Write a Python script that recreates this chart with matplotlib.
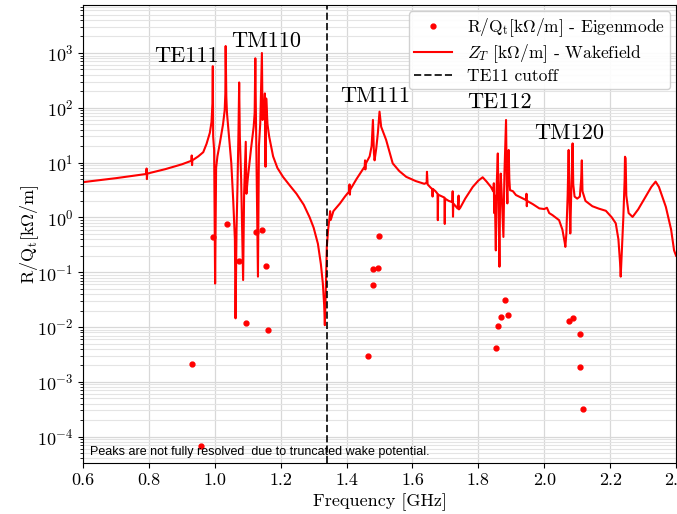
import matplotlib
matplotlib.use("Agg")
import matplotlib.pyplot as plt
from matplotlib.ticker import LogLocator, NullFormatter

plt.rcParams['font.family'] = ['cmr10', 'DejaVu Serif']
plt.rcParams['mathtext.fontset'] = 'cm'
plt.rcParams['axes.formatter.use_mathtext'] = True

# Eigenmode R/Q points
eig_freq = [0.930, 0.958, 0.994, 1.036, 1.073, 1.094, 1.124, 1.142, 1.155, 1.161,
            1.464, 1.479, 1.479, 1.494, 1.497,
            1.855, 1.861, 1.870, 1.882, 1.891,
            2.076, 2.088, 2.109, 2.109, 2.118]
eig_rq = [2.1e-3, 6.7e-5, 0.44, 0.76, 0.16, 0.0118, 0.54, 0.58, 0.13, 0.0088,
          3.0e-3, 0.058, 0.114, 0.12, 0.46,
          4.1e-3, 0.0104, 0.015, 0.031, 0.0165,
          0.0128, 0.0145, 7.4e-3, 1.9e-3, 3.2e-4]

# Wakefield transverse impedance
wake_freq = [0.600, 0.700, 0.790, 0.792, 0.793, 0.794, 0.795, 0.850, 0.900, 0.929,
             0.930, 0.931, 0.932, 0.950, 0.965, 0.975, 0.985, 0.990, 0.993, 0.994,
             0.995, 0.998, 1.001, 1.004, 1.008, 1.015, 1.025, 1.030, 1.032, 1.033,
             1.035, 1.037, 1.045, 1.050, 1.056, 1.061, 1.063, 1.066, 1.069, 1.072,
             1.074, 1.076, 1.080, 1.086, 1.089, 1.094, 1.096, 1.100, 1.110, 1.118,
             1.121, 1.123, 1.125, 1.131, 1.134, 1.138, 1.143, 1.145, 1.150, 1.152,
             1.154, 1.156, 1.160, 1.165, 1.177, 1.190, 1.207, 1.228, 1.248, 1.270,
             1.288, 1.300, 1.313, 1.322, 1.328, 1.332, 1.334, 1.337, 1.340, 1.344,
             1.348, 1.350, 1.352, 1.360, 1.380, 1.395, 1.408, 1.409, 1.410, 1.411,
             1.430, 1.455, 1.456, 1.457, 1.458, 1.470, 1.476, 1.480, 1.483, 1.485,
             1.490, 1.495, 1.500, 1.505, 1.520, 1.540, 1.560, 1.581, 1.610, 1.636,
             1.643, 1.644, 1.646, 1.655, 1.660, 1.661, 1.662, 1.670, 1.676, 1.677,
             1.678, 1.690, 1.697, 1.698, 1.699, 1.710, 1.721, 1.722, 1.723, 1.724,
             1.737, 1.740, 1.741, 1.745, 1.760, 1.783, 1.800, 1.813, 1.825, 1.838,
             1.845, 1.847, 1.848, 1.850, 1.853, 1.855, 1.859, 1.861, 1.864, 1.866,
             1.868, 1.871, 1.876, 1.879, 1.884, 1.886, 1.888, 1.890, 1.892, 1.894,
             1.896, 1.905, 1.914, 1.930, 1.945, 1.946, 1.947, 1.948, 1.965, 1.985,
             2.000, 2.008, 2.015, 2.025, 2.045, 2.055, 2.062, 2.064, 2.067, 2.071,
             2.074, 2.076, 2.079, 2.082, 2.086, 2.088, 2.092, 2.100, 2.108, 2.112,
             2.114, 2.116, 2.125, 2.146, 2.165, 2.187, 2.205, 2.217, 2.225, 2.230,
             2.232, 2.236, 2.240, 2.244, 2.245, 2.247, 2.249, 2.256, 2.268, 2.285,
             2.308, 2.325, 2.338, 2.348, 2.369, 2.385, 2.394, 2.400]
wake_zt = [4.4, 5.2, 6.2, 6.2, 7.8, 5.0, 6.3, 7.6, 9.3, 10.8,
           13.5, 9.0, 11.0, 13.0, 15.5, 22.0, 35.0, 55.0, 120.0, 575.0,
           30.0, 17.0, 0.062, 8.0, 13.0, 22.0, 50.0, 90.0, 180.0, 1340.0,
           160.0, 80.0, 22.0, 10.0, 2.0, 0.4, 0.0144, 0.6, 4.0, 40.0,
           290.0, 30.0, 5.0, 0.072, 2.7, 24.0, 2.7, 5.0, 18.0, 45.0,
           80.0, 800.0, 60.0, 0.083, 20.0, 52.0, 1000.0, 60.0, 100.0, 183.0,
           8.4, 148.0, 50.0, 30.0, 13.0, 8.0, 5.5, 3.8, 2.7, 1.7,
           1.0, 0.65, 0.33, 0.14, 0.062, 0.025, 0.0108, 0.05, 0.29, 0.6,
           0.96, 1.3, 0.9, 1.3, 1.8, 2.4, 3.0, 4.0, 2.6, 3.2,
           5.0, 8.5, 11.0, 7.5, 9.5, 13.0, 20.0, 60.0, 15.0, 11.0,
           18.0, 35.0, 85.0, 45.0, 26.0, 9.7, 7.0, 5.5, 4.6, 4.1,
           4.3, 6.8, 4.0, 3.5, 3.3, 2.4, 3.3, 3.0, 2.7, 0.89,
           2.6, 2.4, 2.3, 0.76, 2.2, 2.0, 1.9, 3.0, 1.03, 1.8,
           1.45, 2.5, 1.4, 1.5, 2.2, 3.6, 4.7, 5.4, 4.5, 3.6,
           3.0, 4.2, 1.2, 2.5, 0.25, 3.0, 14.7, 2.0, 0.126, 3.0,
           6.3, 2.5, 0.44, 6.0, 60.0, 5.0, 1.8, 10.0, 17.0, 5.0,
           3.15, 3.0, 2.56, 2.3, 2.07, 2.7, 1.6, 2.0, 1.75, 1.46,
           1.42, 1.5, 1.2, 1.1, 0.89, 0.6, 0.35, 0.29, 0.5, 2.5,
           17.0, 3.0, 0.51, 3.0, 22.4, 4.0, 2.4, 2.2, 2.4, 5.0,
           11.0, 3.0, 2.0, 1.6, 1.45, 1.32, 1.0, 0.78, 0.4, 0.15,
           0.083, 0.3, 1.0, 5.0, 12.8, 12.0, 2.5, 1.2, 1.02, 1.4,
           2.4, 3.6, 4.5, 3.6, 1.56, 0.6, 0.25, 0.2]

cutoff_freq = 1.34

mode_labels = ['TE111', 'TM110', 'TM111', 'TE112', 'TM120']
mode_label_freq = [0.915, 1.155, 1.487, 1.865, 2.075]
mode_label_val = [870, 1650, 165, 125, 35]

fig = plt.figure(figsize=(6.77, 5.14), dpi=100)
ax = fig.add_axes([0.1226, 0.0992, 0.876, 0.891])

ax.plot(eig_freq, eig_rq, 'o', color='red', markersize=3.5, linestyle='none',
        label=r'R/Q$_\mathrm{t}$[k$\Omega$/m] - Eigenmode', zorder=3)
ax.plot(wake_freq, wake_zt, '-', color='red', linewidth=1.5,
        label=r'$Z_T$ [k$\Omega$/m] - Wakefield', zorder=2)
ax.axvline(cutoff_freq, color='black', linestyle='--', linewidth=1.4,
           label='TE11 cutoff', zorder=2, alpha=0.85)

ax.set_yscale('log')
ax.set_xlim(0.6, 2.4)
ax.set_ylim(3.3e-5, 7.5e3)
ax.set_xticks([0.6, 0.8, 1.0, 1.2, 1.4, 1.6, 1.8, 2.0, 2.2, 2.4])
ax.xaxis.set_major_formatter(matplotlib.ticker.FormatStrFormatter('%.1f'))
ax.yaxis.set_major_locator(LogLocator(base=10, numticks=20))
ax.yaxis.set_minor_locator(LogLocator(base=10, subs=range(2, 10), numticks=20))
ax.yaxis.set_minor_formatter(NullFormatter())
ax.tick_params(axis='both', labelsize=13)
ax.grid(True, which='major', color='#d8d8d8', linewidth=0.9)
ax.grid(True, which='minor', axis='y', color='#e4e4e4', linewidth=0.8)
ax.set_axisbelow(True)

ax.set_xlabel('Frequency [GHz]', fontsize=13, labelpad=4)
ax.set_ylabel(r'R/Q$_\mathrm{t}$[k$\Omega$/m]', fontsize=13, labelpad=-3)

for lab, fx, fy in zip(mode_labels, mode_label_freq, mode_label_val):
    ax.text(fx, fy, lab, fontsize=16, ha='center', va='center')

ax.text(0.012, 0.012, 'Peaks are not fully resolved  due to truncated wake potential.',
        transform=ax.transAxes, fontsize=9, family='Liberation Sans',
        ha='left', va='bottom')

ax.legend(loc='upper right', fontsize=12.5, numpoints=1, framealpha=0.9,
          borderaxespad=0.35, labelspacing=0.2, handlelength=2.2,
          handletextpad=0.85, borderpad=0.3)

fig.savefig('out.png', dpi=100)
